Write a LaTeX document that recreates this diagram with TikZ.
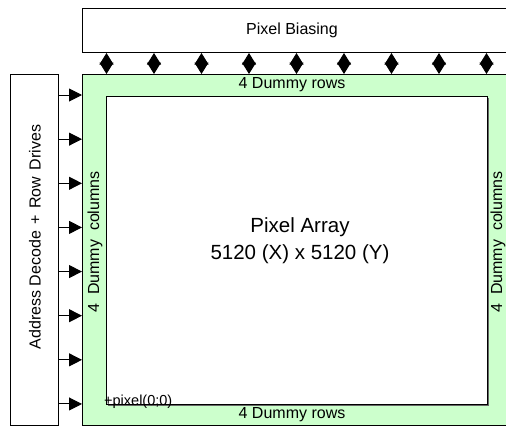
\documentclass[tikz,border=0pt]{standalone}
\usepackage{fontspec}
\setmainfont{Liberation Sans}
\usetikzlibrary{arrows.meta,shadows}
\definecolor{dummygreen}{HTML}{CCFFCC}
\tikzset{
  box/.style={draw=black, line width=1pt, inner sep=0pt, anchor=north west},
  lbl/.style={inner sep=0pt, font=\fontsize{16}{19}\selectfont},
  biglbl/.style={inner sep=0pt, align=center, font=\fontsize{20.5}{27}\selectfont},
  rowarrow/.style={line width=1pt, -{Triangle[length=13pt,width=13pt]}},
  biasarrow/.style={line width=1pt, {Triangle[length=11.5pt,width=14pt]}-{Triangle[length=11.5pt,width=14pt]}},
}
\begin{document}
\begin{tikzpicture}[x=1pt,y=-1pt]
\clip (0,0) rectangle (506,426);
\fill[white] (0,0) rectangle (506,426);
% boxes
\node[box, fill=white, minimum width=440pt, minimum height=44pt] (bias) at (82,8) {};
\node[box, fill=dummygreen, minimum width=440pt, minimum height=351pt] (green) at (82,74) {};
\node[box, fill=white, minimum width=48pt, minimum height=351pt] (addr) at (10,74) {};
\node[box, fill=white, minimum width=381pt, minimum height=308pt,
      drop shadow={shadow xshift=1.5pt, shadow yshift=-1.5pt, fill=black!60, opacity=1}] (inner) at (106,96) {};
% labels
\node[lbl] (biaslbl) at (292,30) {Pixel Biasing};
\node[lbl] (toprows) at (292,85) {4 Dummy rows};
\node[lbl] (botrows) at (292,415) {4 Dummy rows};
\node[lbl, rotate=90] (leftcols) at (95,242) {4\ \ Dummy\ \ columns};
\node[lbl, rotate=90] (rightcols) at (498,242) {4\ \ Dummy\ \ columns};
\node[lbl, rotate=90] (addrlbl) at (35,237) {Address Decode\hspace{6.5pt}+\hspace{6.5pt}Row\hspace{6.5pt}Drives};
\node[biglbl] (arraylbl) at (300,241) {Pixel Array\\5120 (X) x 5120 (Y)};
\node[inner sep=0pt, anchor=base west, font=\fontsize{14.5}{17}\selectfont] (origin) at (104,405) {+pixel(0;0)};
% row drive arrows
\foreach \i in {0,...,7}{
  \coordinate (r\i) at (0,{95+\i*44.14});
  \draw[rowarrow] (addr.east |- r\i) -- (green.west |- r\i);
}
% biasing arrows
\foreach \i in {0,...,8}{
  \coordinate (b\i) at ({106.5+\i*47.5},0);
  \draw[biasarrow] (bias.south -| b\i) -- (green.north -| b\i);
}
\end{tikzpicture}
\end{document}
